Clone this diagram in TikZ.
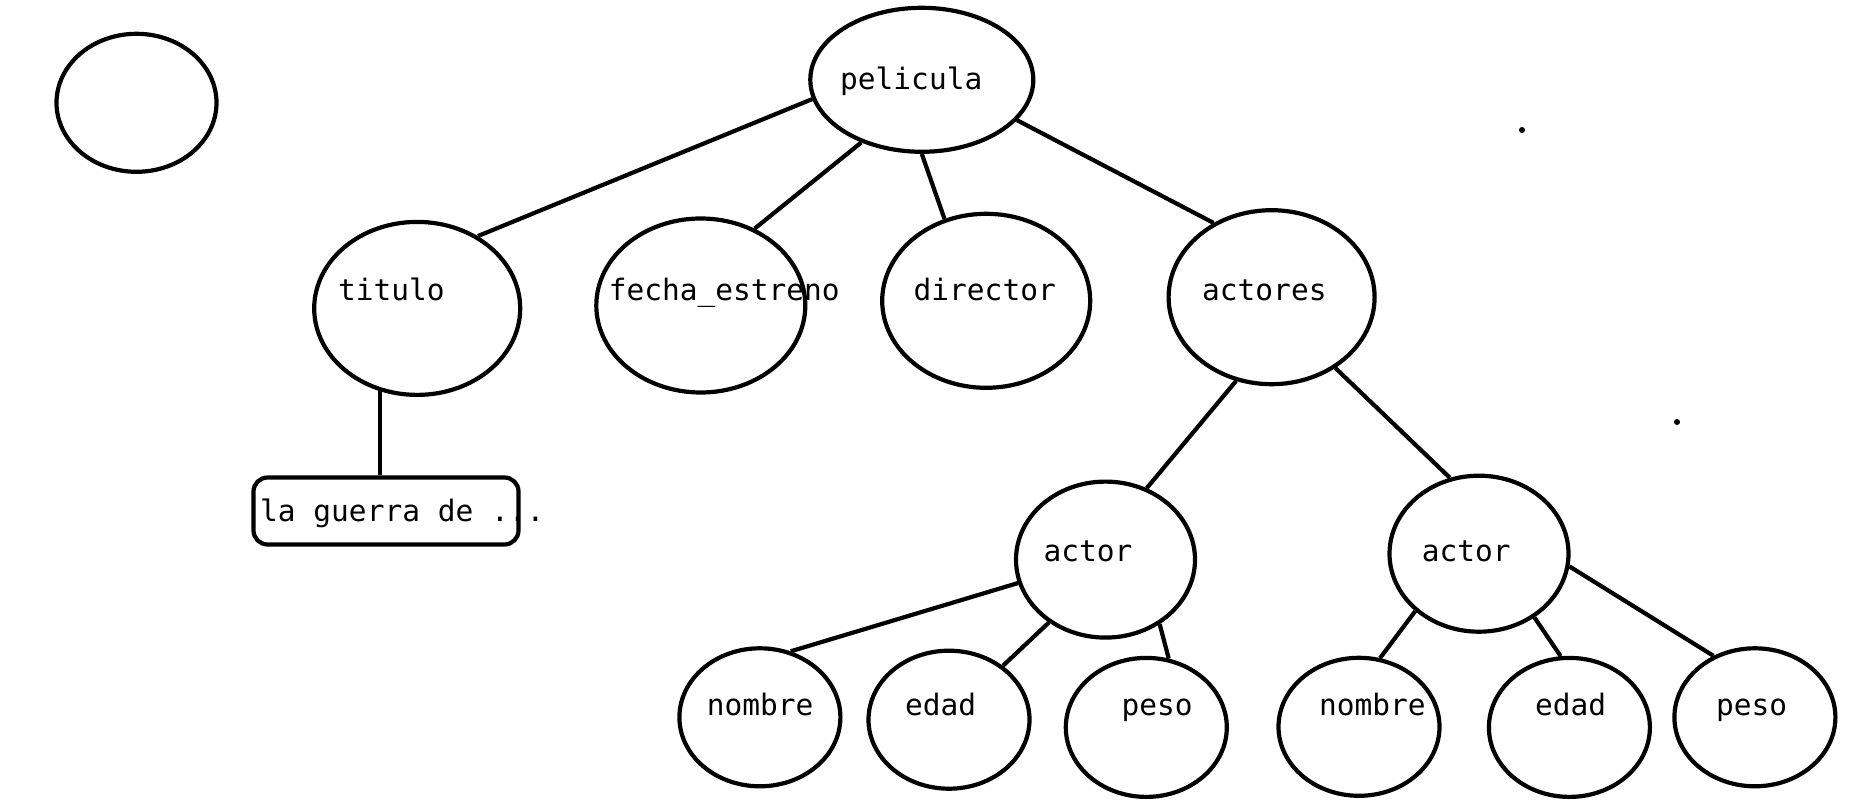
\documentclass[tikz,border=0pt]{standalone}
\usepackage{fontspec}
\newfontfamily\diagmono{DejaVu Sans Mono}
\usetikzlibrary{shapes.geometric}
\tikzset{
  ell/.style={ellipse, draw, line width=4.2pt, inner sep=0pt},
  lbl/.style={anchor=base west, inner sep=0pt, font=\diagmono\fontsize{29.5}{35}\selectfont},
  conn/.style={line width=4.2pt},
  dotmark/.style={circle, fill, inner sep=0pt, minimum size=6pt}
}
\begin{document}
\begin{tikzpicture}[x=1pt,y=-1pt]
\useasboundingbox (0,0) rectangle (1853,802);
% ellipses
\node[ell, minimum width=160pt, minimum height=138pt] (empty) at (136.5,102.8) {};
\node[ell, minimum width=223pt, minimum height=144pt] (pel) at (921.8,79.8) {};
\node[ell, minimum width=206pt, minimum height=173pt] (tit) at (417.2,308.4) {};
\node[ell, minimum width=209pt, minimum height=174pt] (fec) at (700.8,305.5) {};
\node[ell, minimum width=208pt, minimum height=174pt] (dir) at (986.2,300.8) {};
\node[ell, minimum width=206pt, minimum height=174pt] (act) at (1271.6,297.2) {};
\node[ell, minimum width=179pt, minimum height=156pt] (a1) at (1105.5,559.6) {};
\node[ell, minimum width=179pt, minimum height=156pt] (a2) at (1479,553.7) {};
\node[ell, minimum width=161pt, minimum height=138pt] (n1) at (759.9,717.3) {};
\node[ell, minimum width=161pt, minimum height=138pt] (e1) at (949,719.7) {};
\node[ell, minimum width=161pt, minimum height=139pt] (p1) at (1146.3,727.4) {};
\node[ell, minimum width=161pt, minimum height=138pt] (n2) at (1359,726.8) {};
\node[ell, minimum width=161pt, minimum height=139pt] (e2) at (1569.4,727.4) {};
\node[ell, minimum width=161pt, minimum height=138pt] (p2) at (1754.9,717.3) {};
% box
\node[draw, line width=4.2pt, rounded corners=14pt, minimum width=265pt, minimum height=67pt, inner sep=0pt] (box) at (386,511) {};
% labels
\node[lbl] (tpel) at (840,89.8) {pelicula};
\node[lbl] (ttit) at (338,301) {titulo};
\node[lbl] (tfec) at (608.6,301) {fecha\_estreno};
\node[lbl] (tdir) at (913.5,301) {director};
\node[lbl] (tact) at (1202,301) {actores};
\node[lbl] (tbox) at (260,521) {la guerra de ...};
\node[lbl] (ta1) at (1043.5,561) {actor};
\node[lbl] (ta2) at (1421.6,561) {actor};
\node[lbl] (tn1) at (706.7,715) {nombre};
\node[lbl] (te1) at (905,715) {edad};
\node[lbl] (tp1) at (1121.5,715) {peso};
\node[lbl] (tn2) at (1318.9,715) {nombre};
\node[lbl] (te2) at (1535,715) {edad};
\node[lbl] (tp2) at (1716,715) {peso};
% stray dots
\node[dotmark] (d1) at (1522,130) {};
\node[dotmark] (d2) at (1677,422) {};
% connectors
\draw[conn] (pel.190.9) -- (tit.50.9);
\draw[conn] (pel.226.2) -- (fec.55.9);
\draw[conn] (pel.270) -- (dir.117.4);
\draw[conn] (pel.337.5) -- (act.128.8);
\draw[conn] (tit.246.3) -- (tit.246.3 |- box.north);
\draw[conn] (act.247.1) -- (a1.60.7);
\draw[conn] (act.312.4) -- (a2.111.9);
\draw[conn] (a1.195.2) -- (n1.65.8);
\draw[conn] (a1.228.9) -- (e1.45.6);
\draw[conn] (a1.310.6) -- (p1.72.3);
\draw[conn] (a2.222.3) -- (n2.73.5);
\draw[conn] (a2.311.5) -- (e2.97.9);
\draw[conn] (a2.352.7) -- (p2.124.4);
\end{tikzpicture}
\end{document}
